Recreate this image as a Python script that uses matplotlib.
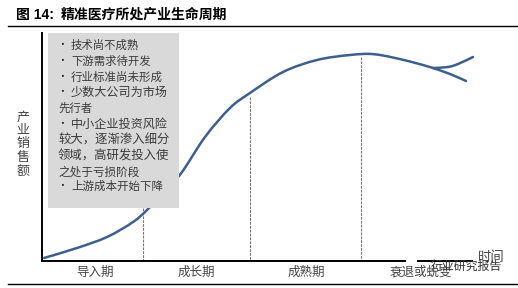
import matplotlib
matplotlib.use('Agg')
import matplotlib.pyplot as plt
from matplotlib.patches import PathPatch, Rectangle
from matplotlib.path import Path

plt.rcParams['font.family'] = ['Noto Sans CJK SC', 'DejaVu Sans']

# 曲线锚点（按图读取，坐标为图上像素）
main_x = [44, 77, 107, 133, 149, 179, 205, 230, 250, 283, 317, 350, 375, 408, 433]
main_y = [258, 248, 237, 222, 208, 176, 137, 108, 93, 72, 60, 55, 54.3, 61, 68]
up_x = [433, 448, 458, 473]
up_y = [68, 67, 64, 57]
down_x = [433, 450, 466]
down_y = [68, 74, 81]

stage_x = [143, 250, 361]
stage_top = [208, 97, 57]
stage_names = ['导入期', '成长期', '成熟期', '衰退或蜕变']
stage_label_x = [95, 196, 306, 421]
ylabel_chars = ['产', '业', '销', '售', '额']
ylabel_pos = [117, 130, 144, 157, 171]

box_text = ['技术尚不成熟', '下游需求待开发', '行业标准尚未形成', '少数大公司为市场', '先行者',
            '中小企业投资风险', '较大，逐渐渗入细分', '领域，高研发投入使', '之处于亏损阶段', '上游成本开始下降']
box_y = [45, 61, 77, 92, 108, 124, 140, 156, 172, 186]
box_bullet = [True, True, True, True, False, True, False, False, False, True]
box_size = [8.2, 8.2, 8.3, 8.7, 8.2, 8.7, 8.9, 8.9, 8.4, 8.3]

curve_color = '#3d5f8f'


def smooth_path(xs, ys):
    # 过锚点的平滑贝塞尔路径
    pts = list(zip(xs, ys))
    verts = [pts[0]]
    codes = [Path.MOVETO]
    for i in range(len(pts) - 1):
        p0 = pts[max(i - 1, 0)]
        p1 = pts[i]
        p2 = pts[i + 1]
        p3 = pts[min(i + 2, len(pts) - 1)]
        c1 = (p1[0] + (p2[0] - p0[0]) / 6, p1[1] + (p2[1] - p0[1]) / 6)
        c2 = (p2[0] - (p3[0] - p1[0]) / 6, p2[1] - (p3[1] - p1[1]) / 6)
        verts += [c1, c2, p2]
        codes += [Path.CURVE4, Path.CURVE4, Path.CURVE4]
    return Path(verts, codes)


fig = plt.figure(figsize=(5.18, 2.88), dpi=100)
ax = fig.add_axes([0, 0, 1, 1])
ax.set_xlim(0, 518)
ax.set_ylim(288, 0)
ax.axis('off')

# 标题和上下横线
ax.text(16, 15, '图 14:', fontsize=10, fontweight='bold', va='center', ha='left',
        family=['Liberation Sans', 'Noto Sans CJK SC'])
ax.text(61, 15, '精准医疗所处产业生命周期', fontsize=10, fontweight='bold', va='center', ha='left')
ax.plot([8, 517], [26, 26], color='black', lw=1)
ax.plot([8, 517], [284, 284], color='black', lw=1)

# 阶段分隔虚线
for x, top in zip(stage_x, stage_top):
    ax.plot([x, x], [top, 260], color='#777777', lw=0.8, ls=(0, (2.5, 1)), zorder=1)

# 曲线
for xs, ys in [(main_x, main_y), (up_x, up_y), (down_x, down_y)]:
    ax.add_patch(PathPatch(smooth_path(xs, ys), facecolor='none', edgecolor=curve_color,
                           lw=1.8, capstyle='round', zorder=2))

# 灰色文字框
ax.add_patch(Rectangle((48, 33), 131, 175, facecolor='#d9d9d9', edgecolor='none', zorder=3))
for s, y, has_bullet, size in zip(box_text, box_y, box_bullet, box_size):
    if has_bullet:
        ax.text(57.5, y, '•', fontsize=7, color='#222222', ha='left', va='center', zorder=4)
        ax.text(71, y, s, fontsize=size, color='#3a3a3a', ha='left', va='center', zorder=4)
    else:
        ax.text(58, y, s, fontsize=size, color='#3a3a3a', ha='left', va='center', zorder=4)

# 坐标轴
ax.plot([42, 42], [33, 261], color='black', lw=1.4, zorder=5)
ax.plot([42, 405], [261, 261], color='black', lw=1.4, zorder=5)
ax.plot([418, 472], [261, 261], color='black', lw=1.4, zorder=5)

for c, y in zip(ylabel_chars, ylabel_pos):
    ax.text(23, y, c, fontsize=9.4, color='#444444', ha='center', va='center')
for name, x in zip(stage_names, stage_label_x):
    ax.text(x, 272, name, fontsize=9, color='#444444', ha='center', va='center')
ax.text(491, 257, '时间', fontsize=9.6, color='#444444', ha='center', va='center', zorder=6)

# 水印
ax.text(466, 266, '行业研究报告', fontsize=8.6, color='#333333', ha='center', va='center', zorder=6)

fig.savefig('out.png', dpi=100)
